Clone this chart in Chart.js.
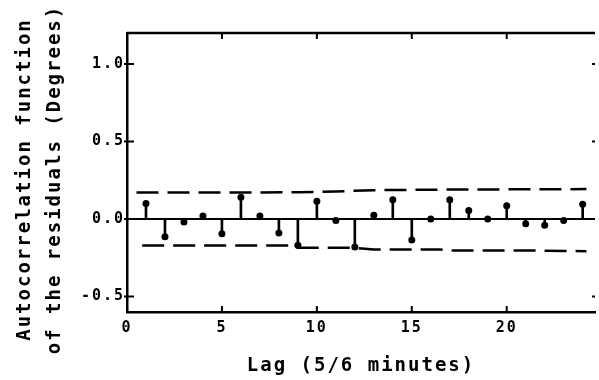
<!DOCTYPE html>
<html>
<head>
<meta charset="utf-8">
<script src="https://cdn.jsdelivr.net/npm/chart.js@4.4.0/dist/chart.umd.min.js"></script>
<style>
  html, body { margin: 0; padding: 0; background: #fff; }
</style>
</head>
<body>
<canvas id="acf" width="599" height="380"></canvas>
<script>
// lags and autocorrelation of the residuals
const lags = [1, 2, 3, 4, 5, 6, 7, 8, 9, 10, 11, 12, 13, 14, 15, 16, 17, 18, 19, 20, 21, 22, 23, 24];
const acf = [0.10, -0.115, -0.02, 0.02, -0.095, 0.14, 0.02, -0.09, -0.17, 0.115, -0.01, -0.18,
             0.025, 0.125, -0.135, 0.0, 0.125, 0.055, 0.0, 0.085, -0.03, -0.04, -0.01, 0.095];

// dashed confidence limits
const upperLags = [0.5, 9, 11, 13, 17, 24.2];
const upperBand = [0.171, 0.172, 0.178, 0.186, 0.19, 0.193];
const lowerLags = [0.8, 8.7, 9, 12, 13, 16.5, 17, 21.5, 24.2];
const lowerBand = [-0.171, -0.171, -0.186, -0.186, -0.197, -0.197, -0.204, -0.204, -0.208];

const xTicks = [0, 5, 10, 15, 20];
const yTicks = [-0.5, 0.0, 0.5, 1.0];

const FONT = "'DejaVu Sans Mono', monospace";

const toPts = (xs, ys) => xs.map((x, i) => ({ x: x, y: ys[i] }));

// plotter look: spaced lettering, inward ticks, top frame line
const plotterStyle = {
  id: "plotterStyle",
  beforeDraw(chart) {
    chart.ctx.letterSpacing = "2px";
    const s = chart.scales.y;
    if (!s._shifted) {
      const orig = s.drawTitle.bind(s);
      s.drawTitle = function () {
        this.ctx.save();
        this.ctx.translate(0, 7);
        orig();
        this.ctx.restore();
      };
      s._shifted = true;
    }
  },
  afterDatasetsDraw(chart) {
    const { ctx, chartArea: a, scales: { x, y } } = chart;
    ctx.save();
    ctx.strokeStyle = "#000";
    ctx.lineWidth = 2.5;
    ctx.beginPath();
    ctx.moveTo(a.left, a.top);
    ctx.lineTo(a.right, a.top);
    ctx.stroke();
    ctx.lineWidth = 2;
    ctx.beginPath();
    xTicks.forEach(v => {
      const px = x.getPixelForValue(v);
      ctx.moveTo(px, a.bottom);
      ctx.lineTo(px, a.bottom - 6);
      ctx.moveTo(px, a.top);
      ctx.lineTo(px, a.top + 6);
    });
    yTicks.forEach(v => {
      const py = y.getPixelForValue(v);
      ctx.moveTo(a.left - 3, py);
      ctx.lineTo(a.left + 7, py);
      ctx.moveTo(a.right, py);
      ctx.lineTo(a.right - 3, py);
    });
    ctx.stroke();
    ctx.restore();
  },
  afterDraw(chart) {
    chart.ctx.letterSpacing = "0px";
  }
};

new Chart(document.getElementById("acf"), {
  type: "bar",
  data: {
    datasets: [
      {
        type: "line",
        data: toPts([0, 25], [0, 0]),
        borderColor: "#000",
        borderWidth: 2,
        pointRadius: 0
      },
      {
        type: "line",
        data: toPts(upperLags, upperBand),
        borderColor: "#000",
        borderWidth: 2.5,
        borderDash: [22, 9],
        pointRadius: 0
      },
      {
        type: "line",
        data: toPts(lowerLags, lowerBand),
        borderColor: "#000",
        borderWidth: 2.5,
        borderDash: [22, 9],
        pointRadius: 0
      },
      {
        type: "bar",
        data: toPts(lags, acf),
        backgroundColor: "#000",
        barThickness: 2
      },
      {
        type: "line",
        data: toPts(lags, acf),
        showLine: false,
        pointRadius: 3.5,
        pointBackgroundColor: "#000",
        pointBorderWidth: 0
      }
    ]
  },
  options: {
    responsive: false,
    animation: false,
    layout: { padding: { top: 33, right: 0, left: 0, bottom: 0 } },
    plugins: { legend: { display: false }, tooltip: { enabled: false } },
    scales: {
      x: {
        type: "linear",
        offset: false,
        min: 0,
        max: 24.65,
        afterBuildTicks: s => { s.ticks = xTicks.map(v => ({ value: v })); },
        afterFit: s => { s.height = 68; },
        grid: { display: false, drawTicks: false, offset: false },
        border: { display: true, color: "#000", width: 2.5 },
        ticks: {
          color: "#000",
          font: { family: FONT, size: 15, weight: "bold" },
          padding: 7,
          maxRotation: 0,
          autoSkip: false,
          callback: v => String(v)
        },
        title: {
          display: true,
          text: "Lag (5/6 minutes)",
          color: "#000",
          font: { family: FONT, size: 19, weight: "bold" },
          padding: { top: 8, bottom: 3 }
        }
      },
      y: {
        min: -0.6,
        max: 1.2,
        afterBuildTicks: s => { s.ticks = yTicks.map(v => ({ value: v })); },
        afterFit: s => { s.width = 127; },
        grid: { display: false, drawTicks: false },
        border: { display: true, color: "#000", width: 2.5 },
        ticks: {
          color: "#000",
          font: { family: FONT, size: 15, weight: "bold" },
          padding: 2,
          callback: v => v.toFixed(1)
        },
        title: {
          display: true,
          text: ["Autocorrelation function", "of the residuals (Degrees)"],
          color: "#000",
          font: { family: FONT, size: 19, weight: "bold", lineHeight: 1.58 },
          padding: { top: 10 }
        }
      }
    }
  },
  plugins: [plotterStyle]
});
</script>
</body>
</html>
